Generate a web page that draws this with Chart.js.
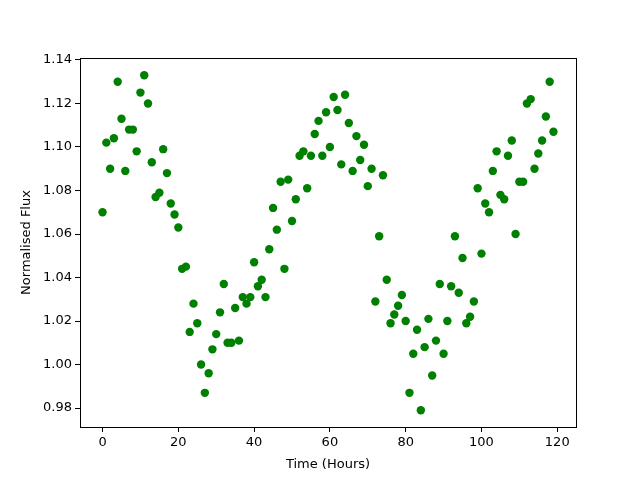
<!DOCTYPE html>
<html>
<head>
<meta charset="utf-8">
<script src="https://cdn.jsdelivr.net/npm/chart.js@4/dist/chart.umd.min.js"></script>
<style>
html,body{margin:0;padding:0;background:#fff;}
#wrap{width:640px;height:480px;}
</style>
</head>
<body>
<div id="wrap"><canvas id="c" width="640" height="480"></canvas></div>
<script>
const hours = [0,1,2,3,4,5,6,7,8,9,10,11,12,13,14,15,16,17,18,19,20,21,22,23,24,25,26,27,28,29,30,31,32,33,34,35,36,37,38,39,40,41,42,43,44,45,46,47,48,49,50,51,52,53,54,55,56,57,58,59,60,61,62,63,64,65,66,67,68,69,70,71,72,73,74,75,76,77,78,79,80,81,82,83,84,85,86,87,88,89,90,91,92,93,94,95,96,97,98,99,100,101,102,103,104,105,106,107,108,109,110,111,112,113,114,115,116,117,118,119];
const flux = [1.070,1.102,1.090,1.104,1.130,1.113,1.089,1.108,1.108,1.098,1.125,1.133,1.120,1.093,1.077,1.079,1.099,1.088,1.074,1.069,
1.063,1.044,1.045,1.015,1.028,1.019,1.000,0.987,0.996,1.007,1.014,1.024,1.037,1.010,1.010,1.026,1.011,1.031,1.028,1.031,
1.047,1.036,1.039,1.031,1.053,1.072,1.062,1.084,1.044,1.085,1.066,1.076,1.096,1.098,1.081,1.096,1.106,1.112,1.096,1.116,
1.100,1.123,1.117,1.092,1.124,1.111,1.089,1.105,1.094,1.101,1.082,1.090,1.029,1.059,1.087,1.039,1.019,1.023,1.027,1.032,
1.020,0.987,1.005,1.016,0.979,1.008,1.021,0.995,1.011,1.037,1.005,1.020,1.036,1.059,1.033,1.049,1.019,1.022,1.029,1.081,
1.051,1.074,1.070,1.089,1.098,1.078,1.076,1.096,1.103,1.060,1.084,1.084,1.120,1.122,1.090,1.097,1.103,1.114,1.130,1.107];
const xTicks = [0,20,40,60,80,100,120];
const yTicks = [0.98,1.00,1.02,1.04,1.06,1.08,1.10,1.12,1.14];

const points = hours.map((h,i)=>({x:h,y:flux[i]}));

const frame = {
  id:'frame',
  afterDraw(chart){
    const a = chart.chartArea, ctx = chart.ctx;
    ctx.save();
    ctx.strokeStyle='#000';
    ctx.lineWidth=1;
    ctx.strokeRect(Math.round(a.left)+0.5, Math.round(a.top)+0.5, Math.round(a.right-a.left), Math.round(a.bottom-a.top));
    ctx.restore();
  }
};

const font = {family:'DejaVu Sans', size:13};

new Chart(document.getElementById('c'), {
  type:'scatter',
  data:{datasets:[{data:points, backgroundColor:'#008000', borderColor:'#008000', pointRadius:4.2, pointHoverRadius:4.2, borderWidth:0}]},
  options:{
    responsive:false, animation:false, events:[],
    layout:{padding:{left:0, top:58, right:64, bottom:0}},
    plugins:{legend:{display:false}, tooltip:{enabled:false}},
    scales:{
      x:{
        type:'linear', min:-5.95, max:124.95,
        afterBuildTicks(s){ s.ticks = xTicks.map(v=>({value:v})); },
        afterFit(s){ s.height = 53; },
        ticks:{color:'#000', font:font, padding:3, maxRotation:0, autoSkip:false, callback:v=>String(v)},
        grid:{drawOnChartArea:false, drawTicks:true, tickLength:5, color:'#000', tickColor:'#000'},
        border:{display:false},
        title:{display:true, text:'Time (Hours)', color:'#000', font:font, padding:{top:4,bottom:8}}
      },
      y:{
        type:'linear', min:0.9713, max:1.1409,
        afterBuildTicks(s){ s.ticks = yTicks.map(v=>({value:v})); },
        afterFit(s){ s.width = 80; },
        ticks:{color:'#000', font:font, padding:3, autoSkip:false, callback:v=>v.toFixed(2)},
        grid:{drawOnChartArea:false, drawTicks:true, tickLength:5, color:'#000', tickColor:'#000'},
        border:{display:false},
        title:{display:true, text:'Normalised Flux', color:'#000', font:font, padding:{top:19,bottom:4}}
      }
    }
  },
  plugins:[frame]
});
</script>
</body>
</html>
